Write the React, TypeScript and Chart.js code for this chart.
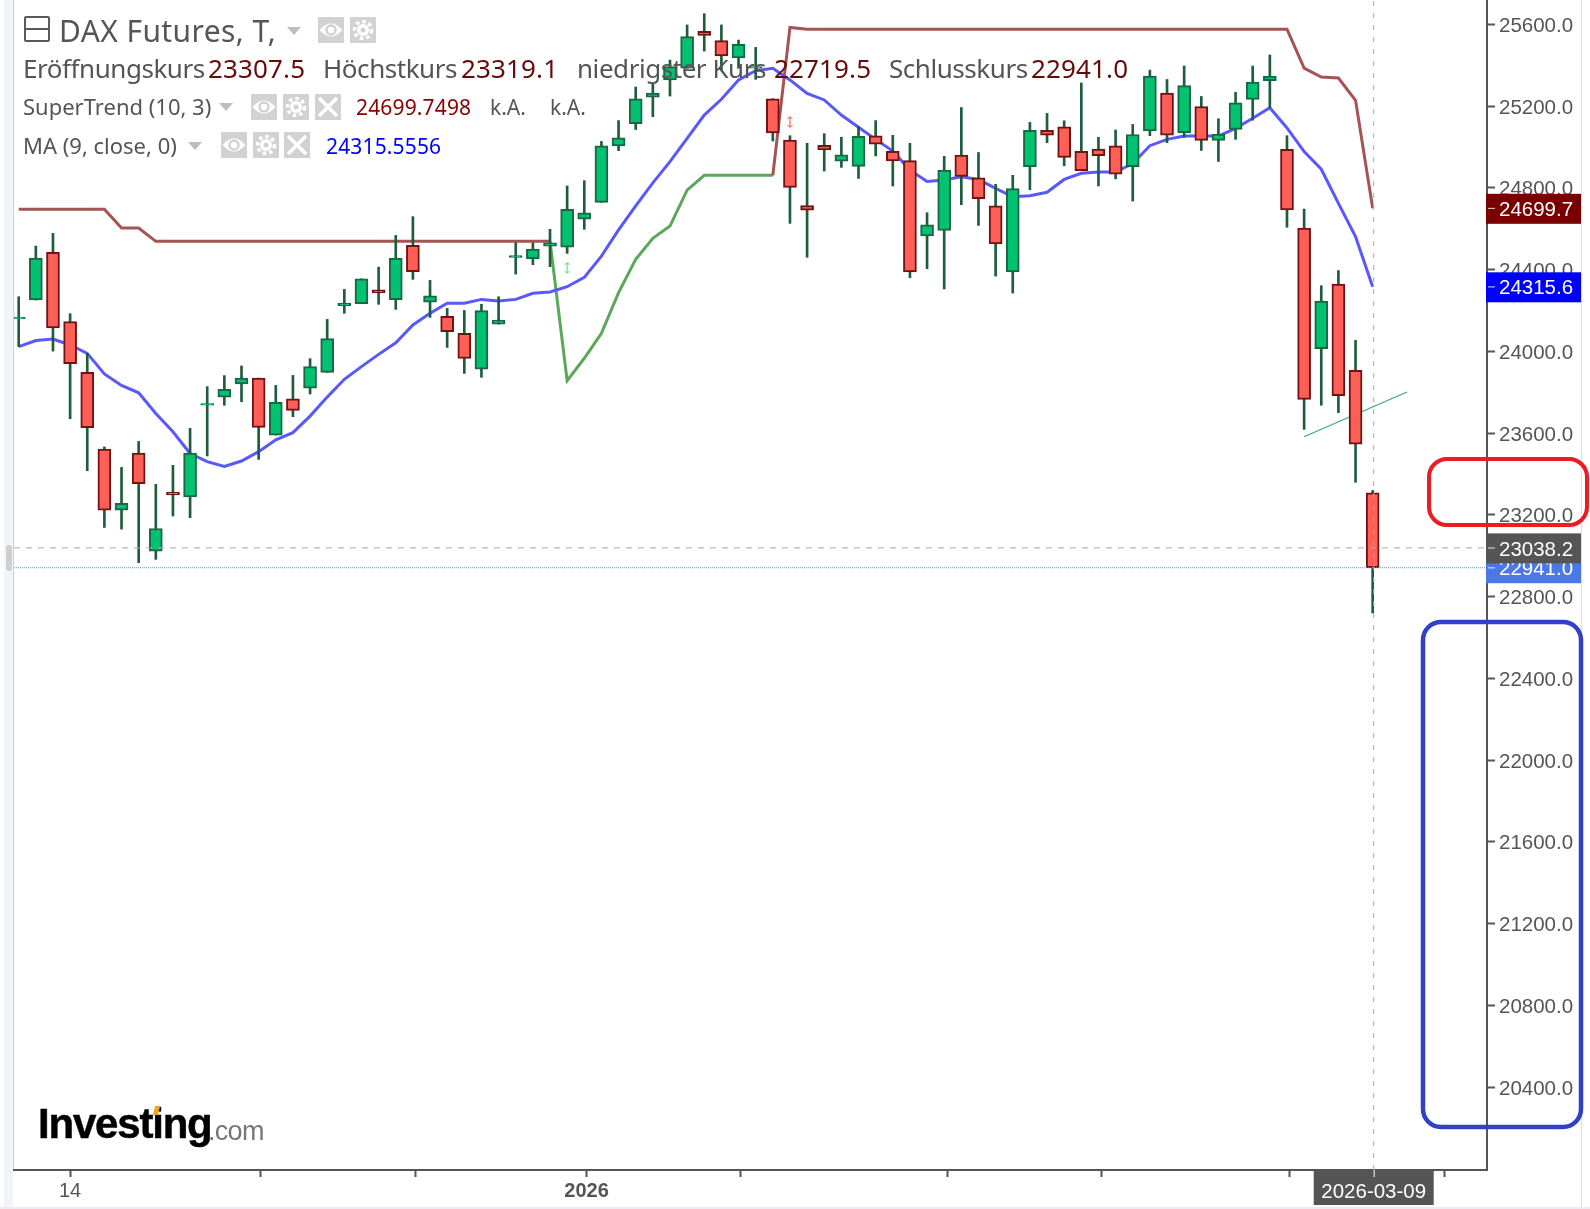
import React, { useEffect, useRef } from "react";
import { Chart, registerables } from "chart.js";

Chart.register(...registerables);

const opens = [24158,24251,24484,24145,23897,23522,23223,23502,23022,23310,23288,23736,23775,23840,23869,23590,23768,23820,23897,24223,24233,24301,24253,24518,24241,24171,24088,23912,24133,24460,24453,24515,24509,24646,24729,25005,25114,25243,25328,25385,25566,25520,25435,25385,25236,25034,24713,25008,24930,24905,25054,24978,24933,24564,24592,24960,24849,24712,24389,24903,25081,25099,24978,24990,25006,24903,25078,25264,25070,25198,25032,25086,25233,25324,24988,24603,24013,24329,23907,23307.5];
const highs = [24267,24515,24577,24184,23990,23532,23432,23559,23349,23442,23623,23827,23881,23928,23869,23833,23882,23964,24156,24303,24355,24412,24567,24659,24347,24210,24200,24230,24267,24531,24531,24597,24809,24835,25027,25129,25293,25311,25425,25597,25652,25597,25523,25487,25236,25055,25018,25065,25047,25099,25129,25057,25018,24678,24954,25193,24973,24817,24861,25120,25164,25128,25313,25047,25083,25110,25376,25330,25396,25247,25138,25267,25396,25450,25055,24696,24321,24395,24054,23319.1];
const lows = [24023,24251,24001,23670,23416,23138,23130,22966,22982,23194,23186,23488,23736,23753,23471,23590,23680,23791,23897,24186,24233,24230,24205,24352,24166,24019,23892,23873,24133,24378,24424,24414,24479,24597,24729,24982,25085,25148,25249,25385,25469,25376,25385,25331,25029,24626,24460,24882,24900,24846,24956,24809,24360,24404,24305,24717,24616,24368,24285,24791,25021,24908,24884,24809,24844,24735,25055,25021,25047,24983,24929,25037,25131,25192,24607,23618,23736,23700,23359,22719.5];
const closes = [24166,24456,24114,23939,23626,23223,23256,23352,23133,23297,23502,23744,23814,23869,23628,23750,23711,23925,24062,24236,24355,24287,24455,24390,24272,24096,23965,24199,24153,24468,24500,24531,24695,24678,25006,25044,25236,25264,25393,25540,25546,25445,25502,25393,25068,24802,24691,24985,24962,25052,25013,24931,24389,24619,24887,24856,24747,24526,24796,25081,25058,24949,24884,24957,24867,25061,25347,25058,25300,25032,25063,25216,25317,25347,24692,23765,24246,23783,23545,22941];

const maValues = [24023,24053,24060,24031,23990,23889,23833,23797,23696,23606,23500,23460,23437,23463,23509,23567,23602,23683,23776,23863,23925,23985,24042,24129,24186,24235,24235,24254,24246,24254,24284,24290,24316,24362,24466,24594,24712,24824,24928,25042,25156,25233,25328,25373,25385,25328,25262,25230,25156,25096,25037,24980,24887,24831,24838,24854,24841,24797,24756,24761,24778,24841,24871,24877,24877,24919,25006,25037,25053,25053,25053,25091,25140,25192,25093,24977,24891,24724,24561,24315.6];
const superTrendDown = [24695,24695,24695,24695,24695,24695,24603,24603,24538,24538,24538,24538,24538,24538,24538,24538,24538,24538,24538,24538,24538,24538,24538,24538,24538,24538,24538,24538,24538,24538,24538,24538,null,null,null,null,null,null,null,null,null,null,null,null,24861,25585,25576,25576,25576,25576,25576,25576,25576,25576,25576,25576,25576,25576,25576,25576,25576,25576,25576,25576,25576,25576,25576,25576,25576,25576,25576,25576,25576,25576,25576,25386,25342,25337,25228,24699.7];
const superTrendUp = [null,null,null,null,null,null,null,null,null,null,null,null,null,null,null,null,null,null,null,null,null,null,null,null,null,null,null,null,null,null,null,24538,23856,23966,24088,24287,24450,24553,24613,24789,24861,24861,24861,24861,24861,null,null,null,null,null,null,null,null,null,null,null,null,null,null,null,null,null,null,null,null,null,null,null,null,null,null,null,null,null,null,null,null,null,null,null];

const yTicks = [20400,20800,21200,21600,22000,22400,22800,23200,23600,24000,24400,24800,25200,25600];
const xTickSlots = [3,14.13,23.13,33.13,42.13,54.17,63.17,74.17,83.17];
const xTickLabels = ["14","","","2026","","","","",""];

const trendSlots = [75, 81];
const trendValues = [23582, 23801];
const crosshairSlot = 79.06;
const crosshairValue = 23038.2;
const closeValue = 22941.0;
const maLast = 24315.6;
const superTrendLast = 24699.7;
const dateLabel = "2026-03-09";
const buySignal = { slot: 32, value: 24408 };
const sellSignal = { slot: 45, value: 25122 };

const yMin = 19994, yMax = 25719, xMin = -0.274, xMax = 85.67;
const GREEN = "#00c271", GREEN_EDGE = "#1d6644", RED = "#ff5f57", RED_EDGE = "#6e1414", WICK = "#1f5c3d";
const slots = opens.map((_, i) => i);
const isUp = slots.map((i) => closes[i] >= opens[i]);
const AXIS_FONT = "'Liberation Sans', Arial, sans-serif";

function roundRect(ctx: any, x0: number, y0: number, x1: number, y1: number, r: number) {
  ctx.beginPath();
  ctx.roundRect(x0, y0, x1 - x0, y1 - y0, r);
  ctx.stroke();
}

const overlay = {
  id: "overlay",
  afterDraw(chart: any) {
    const { ctx, scales } = chart;
    const y = scales.y, x = scales.x;
    const axisX = chart.chartArea.right;
    const tag = (v: number, bg: string, label: string) => {
      const py = y.getPixelForValue(v);
      ctx.fillStyle = bg;
      ctx.fillRect(axisX - 1, py - 14.5, 95, 30);
      ctx.fillStyle = "rgba(255,255,255,0.7)";
      ctx.fillRect(axisX + 1, py - 0.5, 7, 1.2);
      ctx.fillStyle = "#fff";
      ctx.font = `20.5px ${AXIS_FONT}`;
      ctx.textAlign = "left";
      ctx.textBaseline = "middle";
      ctx.fillText(label, axisX + 12, py + 2);
    };
    ctx.save();
    tag(closeValue, "#4a78e6", closeValue.toFixed(1));
    tag(crosshairValue, "#555555", crosshairValue.toFixed(1));
    tag(maLast, "#0000ff", maLast.toFixed(1));
    tag(superTrendLast, "#7a0000", superTrendLast.toFixed(1));

    const cx = x.getPixelForValue(crosshairSlot);
    const baseY = chart.chartArea.bottom;
    ctx.fillStyle = "#555555";
    ctx.fillRect(cx - 60, baseY, 120, 35);
    ctx.fillStyle = "#fff";
    ctx.fillRect(cx, baseY, 1, 7);
    ctx.font = `20.5px ${AXIS_FONT}`;
    ctx.textAlign = "center";
    ctx.textBaseline = "middle";
    ctx.fillText(dateLabel, cx, baseY + 22);

    const arrow = (s: { slot: number; value: number }, color: string) => {
      const ax = x.getPixelForValue(s.slot), ay = y.getPixelForValue(s.value);
      ctx.strokeStyle = color;
      ctx.lineWidth = 1;
      ctx.beginPath();
      ctx.moveTo(ax, ay - 5); ctx.lineTo(ax, ay + 5);
      ctx.moveTo(ax - 2.5, ay - 3); ctx.lineTo(ax, ay - 5.5); ctx.lineTo(ax + 2.5, ay - 3);
      ctx.moveTo(ax - 2.5, ay + 3); ctx.lineTo(ax, ay + 5.5); ctx.lineTo(ax + 2.5, ay + 3);
      ctx.stroke();
    };
    arrow(buySignal, "#3fe860");
    arrow(sellSignal, "#f04848");

    ctx.lineWidth = 4;
    ctx.strokeStyle = "#ec1c24";
    roundRect(ctx, 1429, 459, 1587, 525, 18);
    ctx.lineWidth = 4.5;
    ctx.strokeStyle = "#3040c8";
    roundRect(ctx, 1423, 622, 1581, 1127, 18);
    ctx.restore();
  },
};

const G = "#d2d2d2";
function IconBox({ x, y, kind }: { x: number; y: number; kind: "eye" | "gear" | "close" }) {
  return (
    <svg style={{ position: "absolute", left: x, top: y }} width={26} height={26} viewBox="0 0 26 26">
      <rect width={26} height={26} fill={G} />
      {kind === "eye" && (
        <g fill="none" stroke="#fff">
          <path d="M3 13 Q13 2 23 13 Q13 24 3 13 Z" strokeWidth={2} fill="#fff" />
          <circle cx={13} cy={13} r={4.5} stroke={G} strokeWidth={2.5} />
        </g>
      )}
      {kind === "gear" && (
        <g>
          <circle cx={13} cy={13} r={8.5} fill="none" stroke="#fff" strokeWidth={3.5} strokeDasharray="3.5 3" />
          <circle cx={13} cy={13} r={6} fill="#fff" />
          <circle cx={13} cy={13} r={2.5} fill={G} />
        </g>
      )}
      {kind === "close" && <path d="M4 4 L22 22 M22 4 L4 22" stroke="#fff" strokeWidth={3.5} />}
    </svg>
  );
}

function Tri({ x, y }: { x: number; y: number }) {
  return (
    <svg style={{ position: "absolute", left: x, top: y }} width={14} height={8} viewBox="0 0 14 8">
      <path d="M0 0 H14 L7 8 Z" fill="#bdbdbd" />
    </svg>
  );
}

function T({ x, cy, size, color, children, style }: any) {
  return (
    <span
      style={{
        position: "absolute",
        left: x,
        top: cy - size / 2,
        fontSize: size,
        lineHeight: `${size}px`,
        color,
        whiteSpace: "nowrap",
        fontFamily: "'Noto Sans', sans-serif",
        ...style,
      }}
    >
      {children}
    </span>
  );
}

const labelTight = { letterSpacing: -0.45 };
const valueWide = { letterSpacing: 0.15 };

export default function App() {
  const ref = useRef<HTMLCanvasElement | null>(null);

  useEffect(() => {
    if (!ref.current) return;
    const pts = (arr: (number | null)[]) => arr.map((v, i) => ({ x: i, y: v }));
    const chart = new Chart(ref.current, {
      type: "bar",
      data: {
        datasets: [
          { type: "line", data: [{ x: crosshairSlot, y: yMin }, { x: crosshairSlot, y: yMax }], borderColor: "#a9a9a9", borderWidth: 1, borderDash: [5, 7], pointRadius: 0, order: 0 },
          { type: "line", data: [{ x: xMin, y: crosshairValue }, { x: xMax, y: crosshairValue }], borderColor: "#a9a9a9", borderWidth: 1, borderDash: [6, 6], pointRadius: 0, order: 0 },
          { type: "line", data: [{ x: xMin, y: closeValue }, { x: xMax, y: closeValue }], borderColor: "#6f8ee8", borderWidth: 1, borderDash: [1, 1], pointRadius: 0, order: 0 },
          { type: "bar", data: slots.map((i) => ({ x: i, y: [opens[i], closes[i]] })), backgroundColor: slots.map((i) => (isUp[i] ? GREEN : RED)), borderColor: slots.map((i) => (isUp[i] ? GREEN_EDGE : RED_EDGE)), borderWidth: 2, borderSkipped: false, barThickness: 13, grouped: false, order: 1 },
          { type: "bar", data: slots.map((i) => ({ x: i, y: [lows[i], highs[i]] })), backgroundColor: WICK, borderWidth: 0, barThickness: 2, grouped: false, order: 2 },
          { type: "line", data: trendSlots.map((s, i) => ({ x: s, y: trendValues[i] })), borderColor: "#3aa98a", borderWidth: 1.3, pointRadius: 0, order: 3 },
          { type: "line", data: pts(maValues), borderColor: "#5858fb", borderWidth: 3, pointRadius: 0, tension: 0, order: 5 },
          { type: "line", data: pts(superTrendDown), borderColor: "#a65353", borderWidth: 3, pointRadius: 0, spanGaps: false, order: 6 },
          { type: "line", data: pts(superTrendUp), borderColor: "#5aa858", borderWidth: 3, pointRadius: 0, spanGaps: false, order: 6 },
        ],
      } as any,
      options: {
        animation: false,
        responsive: false,
        devicePixelRatio: 1,
        layout: { padding: { left: 14, top: 0, right: 0, bottom: 0 } },
        plugins: { legend: { display: false }, tooltip: { enabled: false }, title: { display: false } },
        scales: {
          x: {
            type: "linear",
            min: xMin,
            max: xMax,
            offset: false,
            border: { display: true, color: "#555555", width: 2 },
            grid: { display: true, offset: false, drawOnChartArea: false, drawTicks: true, tickLength: 7, tickColor: "#555555", tickWidth: 2 },
            ticks: {
              autoSkip: false,
              maxRotation: 0,
              color: "#555555",
              padding: 2,
              font: (c: any) => ({ family: AXIS_FONT, size: 20, weight: c.tick && c.tick.value === xTickSlots[3] ? "bold" : "normal" }),
              callback: (v: any) => xTickLabels[xTickSlots.indexOf(v)] ?? "",
            },
            afterBuildTicks: (s: any) => { s.ticks = xTickSlots.map((value) => ({ value })); },
            afterFit: (s: any) => { s.height = 39; s.paddingLeft = 0; s.paddingRight = 0; },
          },
          y: {
            type: "linear",
            position: "right",
            min: yMin,
            max: yMax,
            border: { display: true, color: "#555555", width: 2 },
            grid: { display: true, offset: false, drawOnChartArea: false, drawTicks: true, tickLength: 8, tickColor: "#555555", tickWidth: 2 },
            ticks: {
              color: "#555555",
              padding: 4,
              autoSkip: false,
              font: { family: AXIS_FONT, size: 20.5, lineHeight: "4px" },
              callback: (v: any) => ["", Number(v).toFixed(1)],
            },
            afterBuildTicks: (s: any) => { s.ticks = yTicks.map((value) => ({ value })); },
            afterFit: (s: any) => { s.width = 103; s.paddingTop = 0; s.paddingBottom = 0; },
          },
        },
      } as any,
      plugins: [overlay],
    });
    return () => chart.destroy();
  }, []);

  return (
    <div style={{ position: "fixed", left: 0, top: 0, width: 1590, height: 1209, background: "#fff", overflow: "hidden" }}>
      <div style={{ position: "absolute", left: 4, top: 0, width: 9, height: 1209, background: "#f3f4f9" }} />
      <div style={{ position: "absolute", left: 13, top: 0, width: 1, height: 1170, background: "#cfcfd6" }} />
      <div style={{ position: "absolute", left: 0, top: 1207, width: 1590, height: 2, background: "#eeeaf2" }} />
      <div style={{ position: "absolute", left: 1581, top: 0, width: 1, height: 1207, background: "#e2dcea" }} />
      <div style={{ position: "absolute", left: 6, top: 545, width: 6, height: 26, borderRadius: 3, background: "#cfcfcf" }} />
      <canvas ref={ref} width={1590} height={1209} style={{ position: "absolute", left: 0, top: 0, width: 1590, height: 1209 }} />

      <div style={{ position: "absolute", left: 24, top: 16, width: 22, height: 22, border: "2px solid #5a5a5a", borderRadius: 2 }}>
        <div style={{ position: "absolute", left: 0, top: 10, width: 22, height: 2, background: "#5a5a5a" }} />
      </div>
      <T x={59} cy={30.5} size={30} color="#555" style={{ letterSpacing: 0.4 }}>DAX Futures, T,</T>
      <Tri x={287} y={27} />
      <IconBox x={318} y={17} kind="eye" />
      <IconBox x={350} y={17} kind="gear" />

      <T x={23} cy={67.5} size={26} color="#555" style={labelTight}>Eröffnungskurs</T>
      <T x={208} cy={67.5} size={26} color="#660a0a" style={valueWide}>23307.5</T>
      <T x={323} cy={67.5} size={26} color="#555" style={labelTight}>Höchstkurs</T>
      <T x={461} cy={67.5} size={26} color="#660a0a" style={valueWide}>23319.1</T>
      <T x={577} cy={67.5} size={26} color="#555" style={labelTight}>niedrigster Kurs</T>
      <T x={774} cy={67.5} size={26} color="#660a0a" style={valueWide}>22719.5</T>
      <T x={889} cy={67.5} size={26} color="#555" style={labelTight}>Schlusskurs</T>
      <T x={1031} cy={67.5} size={26} color="#660a0a" style={valueWide}>22941.0</T>

      <T x={23} cy={106} size={22} color="#555">SuperTrend (10, 3)</T>
      <Tri x={219} y={103} />
      <IconBox x={251} y={94} kind="eye" />
      <IconBox x={283} y={94} kind="gear" />
      <IconBox x={315} y={94} kind="close" />
      <T x={356} cy={107} size={21} color="#880000" style={valueWide}>24699.7498</T>
      <T x={490} cy={107} size={21} color="#555">k.A.</T>
      <T x={550} cy={107} size={21} color="#555">k.A.</T>

      <T x={23} cy={145} size={22} color="#555">MA (9, close, 0)</T>
      <Tri x={188} y={142} />
      <IconBox x={221} y={132} kind="eye" />
      <IconBox x={253} y={132} kind="gear" />
      <IconBox x={284} y={132} kind="close" />
      <T x={326} cy={146} size={21} color="#0000ff" style={valueWide}>24315.5556</T>

      <T x={38} cy={1124} size={42} color="#000" style={{ fontFamily: AXIS_FONT, fontWeight: 700, letterSpacing: -1.2, WebkitTextStroke: "0.5px #000" }}>Investing</T>
      <T x={208} cy={1131} size={27} color="#777" style={{ fontFamily: AXIS_FONT, letterSpacing: -0.7 }}>.com</T>
      <div style={{ position: "absolute", left: 154, top: 1106, width: 5, height: 9, background: "#f7a21b", transform: "skewX(-15deg)" }} />
    </div>
  );
}
